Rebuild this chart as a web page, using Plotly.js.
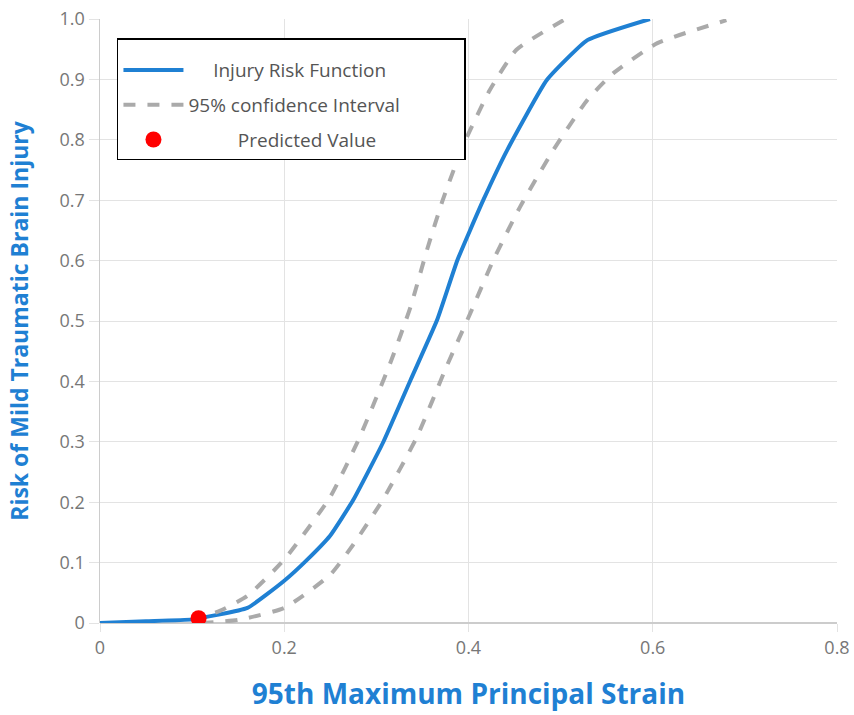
<!DOCTYPE html>
<html>
<head>
<meta charset="utf-8">
<script src="https://cdn.plot.ly/plotly-3.0.1.min.js"></script>
<style>html,body{margin:0;padding:0;background:#fff;}#chart{width:854px;height:715px;}</style>
</head>
<body>
<div id="chart"></div>
<script>
// Injury risk function (blue)
const riskX = [0, 0.05, 0.1, 0.16, 0.2, 0.225, 0.25, 0.275, 0.307, 0.337, 0.366, 0.388, 0.416, 0.442, 0.485, 0.529, 0.597];
const riskY = [0, 0.003, 0.006, 0.025, 0.07, 0.105, 0.145, 0.204, 0.298, 0.402, 0.502, 0.601, 0.700, 0.783, 0.899, 0.965, 1.0];
// Upper 95% confidence bound
const upperX = [0.1, 0.13, 0.16, 0.2, 0.25, 0.282, 0.315, 0.337, 0.355, 0.372, 0.394, 0.423, 0.452, 0.503];
const upperY = [0.005, 0.02, 0.045, 0.105, 0.209, 0.308, 0.43, 0.523, 0.618, 0.70, 0.79, 0.882, 0.949, 0.998];
// Lower 95% confidence bound
const lowerX = [0.11, 0.15, 0.2, 0.25, 0.275, 0.307, 0.344, 0.376, 0.402, 0.427, 0.456, 0.492, 0.529, 0.557, 0.605, 0.68];
const lowerY = [0.0, 0.005, 0.025, 0.08, 0.13, 0.204, 0.308, 0.424, 0.513, 0.601, 0.689, 0.783, 0.866, 0.91, 0.96, 0.998];
// Predicted value
const predX = [0.107];
const predY = [0.008];
// Tick labels
const xTickVals = [0, 0.2, 0.4, 0.6, 0.8];
const xTickText = ["0", "0.2", "0.4", "0.6", "0.8"];
const yTickVals = [0, 0.1, 0.2, 0.3, 0.4, 0.5, 0.6, 0.7, 0.8, 0.9, 1.0];
const yTickText = ["0", "0.1", "0.2", "0.3", "0.4", "0.5", "0.6", "0.7", "0.8", "0.9", "1.0"];

const blue = "#1f80d3";
const grey = "#aaaaaa";
const nb = n => "\u00a0".repeat(n);

const traces = [
  {x: riskX, y: riskY, mode: "lines", name: nb(5) + "Injury Risk Function",
   line: {color: blue, width: 4, shape: "spline", smoothing: 0.4}, legendgroup: "a"},
  {x: upperX, y: upperY, mode: "lines", name: "95% confidence Interval" + nb(12),
   line: {color: grey, width: 4, dash: "dash", shape: "spline", smoothing: 0.5}, legendgroup: "ci"},
  {x: lowerX, y: lowerY, mode: "lines", name: "95% confidence Interval", showlegend: false,
   line: {color: grey, width: 4, dash: "dash", shape: "spline", smoothing: 0.5}, legendgroup: "ci"},
  {x: predX, y: predY, mode: "markers", name: nb(10) + "Predicted Value",
   marker: {color: "#ff0000", size: 16}, legendgroup: "p"}
];

const layout = {
  width: 854, height: 715,
  margin: {l: 100, r: 17, t: 19, b: 92},
  paper_bgcolor: "#fff", plot_bgcolor: "#fff",
  font: {family: "Open Sans, sans-serif", color: "#555"},
  showlegend: true,
  legend: {
    x: 0.023, y: 0.9685, xanchor: "left", yanchor: "top",
    bgcolor: "#fff", bordercolor: "#000", borderwidth: 1.5,
    title: {text: "\u00a0", font: {size: 9}},
    font: {size: 19, color: "#555"}, tracegroupgap: 7, itemwidth: 60
  },
  xaxis: {
    range: [0, 0.8], tickvals: xTickVals, ticktext: xTickText,
    showgrid: true, gridcolor: "#e3e3e3", zeroline: false,
    showline: false, ticks: "outside", ticklen: 8, tickcolor: "#e3e3e3",
    tickfont: {size: 18, color: "#777"},
    title: {text: "95th Maximum Principal Strain", font: {size: 28, color: blue, family: "Open Sans, sans-serif", weight: "bold"}, standoff: 26}
  },
  yaxis: {
    range: [0, 1.0], tickvals: yTickVals, ticktext: yTickText,
    showgrid: true, gridcolor: "#e3e3e3", zeroline: true, zerolinecolor: "#cccccc", zerolinewidth: 1.5,
    showline: true, linecolor: "#cccccc", linewidth: 1.5,
    ticks: "outside", ticklen: 10, tickcolor: "#e3e3e3",
    tickfont: {size: 18, color: "#777"},
    title: {text: "Risk of Mild Traumatic Brain Injury", font: {size: 23, color: blue, family: "Open Sans, sans-serif", weight: "bold"}, standoff: 24}
  }
};

Plotly.newPlot("chart", traces, layout, {displayModeBar: false, staticPlot: true});
</script>
</body>
</html>
